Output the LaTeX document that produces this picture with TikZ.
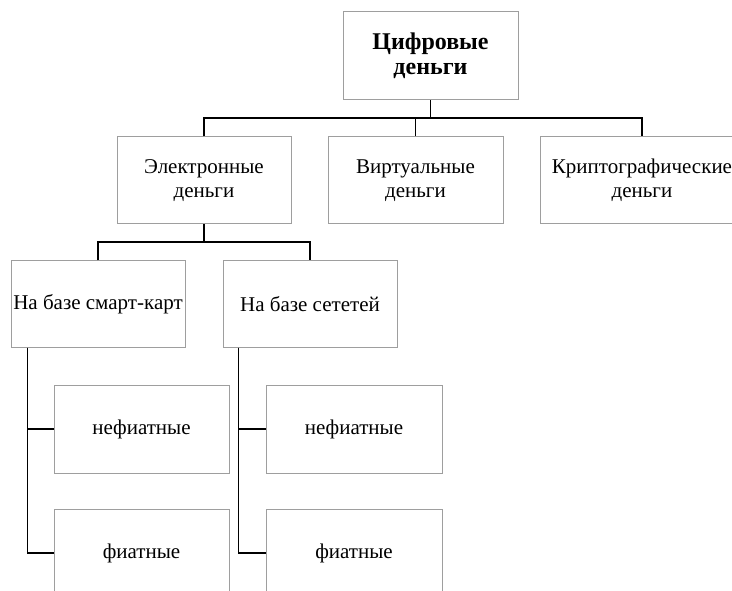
\documentclass[tikz,border=0pt]{standalone}
\usepackage{fontspec}
\setmainfont{Liberation Serif}
\begin{document}
\begin{tikzpicture}[x=1pt,y=-1pt,
  box/.style={draw=black!38, line width=1pt, fill=white, align=center,
    inner sep=0pt, font=\fontsize{21}{24}\selectfont},
  link/.style={draw=black, line width=1.7pt}]
\useasboundingbox (0,0) rectangle (732,591);
\clip (0,0) rectangle (732,591);

% root
\node[box, minimum width=175, minimum height=88, font=\bfseries\fontsize{24}{25}\selectfont]
  (root) at (430.5,56) {Цифровые\\деньги};

% second level
\node[box, minimum width=174, minimum height=87] (el) at (204,180.5) {Электронные\\деньги};
\node[box, minimum width=175, minimum height=87] (virt) at (415.5,180.5) {Виртуальные\\деньги};
\node[box, minimum width=204, minimum height=87] (crypt) at (642,180.5) {Криптографические\\деньги};

% third level
\node[box, minimum width=174, minimum height=86] (smart) at (98,304) {На базе смарт-карт};
\node[box, minimum width=174, minimum height=86] (net) at (310,304) {На базе сететей};

% leaves
\node[box, minimum width=175, minimum height=88] (nf1) at (141.5,429) {нефиатные};
\node[box, minimum width=176, minimum height=88] (nf2) at (354,429) {нефиатные};
\node[box, minimum width=175, minimum height=88] (f1) at (141.5,553) {фиатные};
\node[box, minimum width=176, minimum height=88] (f2) at (354,553) {фиатные};

% connectors
\coordinate (bar1) at (0,118);
\coordinate (bar2) at (0,242);
\draw[link] (root.south) -- (root.south |- bar1);
\draw[link] (el.north) |- (crypt.north |- bar1) -- (crypt.north);
\draw[link] (virt.north) -- (virt.north |- bar1);
\draw[link] (el.south) -- (el.south |- bar2);
\draw[link] (smart.north) |- (net.north |- bar2) -- (net.north);

\coordinate (s1) at ([xshift=17pt]smart.south west);
\coordinate (s2) at ([xshift=16pt]net.south west);
\draw[link] (s1) |- (nf1.west);
\draw[link] (s1) |- (f1.west);
\draw[link] (s2) |- (nf2.west);
\draw[link] (s2) |- (f2.west);
\end{tikzpicture}
\end{document}
